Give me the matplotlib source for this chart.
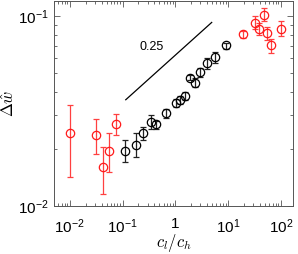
import numpy as np
import matplotlib
matplotlib.use("Agg")
import matplotlib.pyplot as plt
from matplotlib.ticker import LogLocator, FixedLocator, FixedFormatter, NullFormatter

plt.rcParams['font.family'] = ['Liberation Sans', 'DejaVu Sans']
plt.rcParams['mathtext.fontset'] = 'cm'

# Red points (low ratio)
red_lo_x = [0.0103, 0.0311, 0.0423, 0.0542, 0.0755]
red_lo_y = [0.0242, 0.0238, 0.0160, 0.0196, 0.0272]
red_lo_top = [0.0342, 0.0287, 0.0205, 0.0242, 0.0305]
red_lo_bot = [0.0143, 0.0188, 0.0116, 0.0151, 0.0238]

# Black points
blk_x = [0.112, 0.178, 0.249, 0.339, 0.440, 0.681, 1.01, 1.22, 1.51, 1.86, 2.37, 3.0, 4.0, 5.78, 9.18]
blk_y = [0.0196, 0.0210, 0.0242, 0.0277, 0.0270, 0.0310, 0.0348, 0.0360, 0.0379, 0.0474, 0.0446, 0.0506, 0.0567, 0.0608, 0.0701]
blk_top = [0.0223, 0.0242, 0.0261, 0.0302, 0.0282, 0.0326, 0.0365, 0.0380, 0.0400, 0.0490, 0.0470, 0.0535, 0.0605, 0.0650, 0.0720]
blk_bot = [0.0171, 0.0181, 0.0222, 0.0254, 0.0255, 0.0292, 0.0332, 0.0345, 0.0360, 0.0460, 0.0425, 0.0480, 0.0530, 0.0570, 0.0675]

# Red points (high ratio)
red_hi_x = [19.0, 32.6, 39.4, 49.1, 54.3, 65.5, 100.0]
red_hi_y = [0.0804, 0.0919, 0.0855, 0.101, 0.0811, 0.0701, 0.0861]
red_hi_top = [0.0840, 0.1000, 0.0920, 0.111, 0.0880, 0.0760, 0.0940]
red_hi_bot = [0.0765, 0.0860, 0.0800, 0.0940, 0.0750, 0.0640, 0.0790]

# slope guide line
slope = 0.25
line_x = [0.115, 4.9]
line_y0 = 0.0363

fig = plt.figure(figsize=(2.98, 2.54), dpi=100)
ax = fig.add_axes([0.181, 0.189, 0.802, 0.809])

def eb(x, y, top, bot, color, ecolor):
    x = np.array(x); y = np.array(y)
    yerr = [y - np.array(bot), np.array(top) - y]
    ax.errorbar(x, y, yerr=yerr, fmt='o', mfc='none', mec=color, ecolor=ecolor,
                ms=6, mew=0.9, elinewidth=0.9, capsize=2.2, capthick=0.9)

eb(red_lo_x, red_lo_y, red_lo_top, red_lo_bot, '#ff1a1a', '#ff4040')
eb(blk_x, blk_y, blk_top, blk_bot, 'black', '#222222')
eb(red_hi_x, red_hi_y, red_hi_top, red_hi_bot, '#ff1a1a', '#ff4040')

lx = np.array(line_x)
ly = line_y0 * (lx / lx[0]) ** slope
ax.plot(lx, ly, color='black', lw=0.9)
ax.text(0.35, 0.0692, '0.25', fontsize=9, ha='center', va='center')

ax.set_xscale('log')
ax.set_yscale('log')
ax.set_xlim(0.005, 170)
ax.set_ylim(0.01, 0.121)

xt = [0.01, 0.1, 1, 10, 100]
xl = [r'$\mathregular{10^{-2}}$', r'$\mathregular{10^{-1}}$', '1', r'$\mathregular{10^{1}}$', r'$\mathregular{10^{2}}$']
ax.xaxis.set_major_locator(FixedLocator(xt))
ax.xaxis.set_major_formatter(FixedFormatter(xl))
ax.xaxis.set_minor_locator(LogLocator(base=10, subs=np.arange(2, 10)))
ax.xaxis.set_minor_formatter(NullFormatter())
yt = [0.01, 0.1]
yl = [r'$\mathregular{10^{-2}}$', r'$\mathregular{10^{-1}}$']
ax.yaxis.set_major_locator(FixedLocator(yt))
ax.yaxis.set_major_formatter(FixedFormatter(yl))
ax.yaxis.set_minor_locator(LogLocator(base=10, subs=np.arange(2, 10)))
ax.yaxis.set_minor_formatter(NullFormatter())

ax.tick_params(which='both', direction='in', top=True, right=True, labelsize=11, color='#555555')
ax.tick_params(which='major', length=4, width=0.6)
ax.tick_params(which='minor', length=2, width=0.6)
ax.tick_params(axis='x', pad=8)
ax.tick_params(axis='y', pad=4)
for s in ax.spines.values():
    s.set_color('#555555')
    s.set_linewidth(0.7)

ax.set_xlabel(r'$c_l/c_h$', fontsize=12, va='center')
ax.xaxis.set_label_coords(0.5, -0.18)
ax.set_ylabel(r'$\Delta\hat{w}$', fontsize=12, va='center', ha='center')
ax.yaxis.set_label_coords(-0.19, 0.5)

fig.savefig('out.png', dpi=100)
